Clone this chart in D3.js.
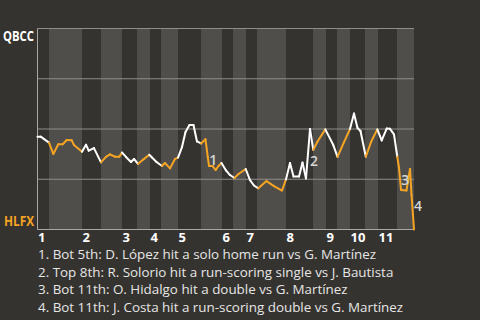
<!DOCTYPE html>
<html>
<head>
<meta charset="utf-8">
<script src="https://cdn.jsdelivr.net/npm/d3@7"></script>
<style>
  body { margin: 0; background: #35332f; }
  svg text { font-family: "Open Sans", "Noto Sans", sans-serif; }
</style>
</head>
<body>
<svg id="chart"></svg>
<script>
// event position (0..100 across the game) and QBCC win probability (%)
const eventT = [0, 0.85, 3.05, 4.2, 5.52, 6.69, 7.76, 9.08, 9.69, 11.82, 12.88, 13.6, 15.0, 16.87, 18.19, 19.26, 20.58, 21.73, 22.44, 23.5,
  24.83, 25.63, 26.69, 28.15, 29.69, 30.41, 31.61, 33.07, 33.86, 35.19, 36.52, 37.32, 38.38, 39.31, 40.37, 41.43, 42.36, 43.43, 44.62, 45.21,
  45.55, 46.48, 47.33, 48.07, 48.87, 50.07, 51.13, 52.32, 53.39, 55.3, 56.44, 57.5, 58.65, 60.82, 62.82, 64.94, 66.0, 67.06, 68.0, 69.46,
  70.38, 71.31, 72.38, 73.25, 74.37, 76.44, 78.57, 79.68, 81.41, 83.0, 84.06, 85.0, 85.79, 87.2, 88.58, 90.25, 91.42, 92.75, 93.63, 94.69,
  95.56, 96.02, 96.55, 98.0, 98.94, 99.34, 100];
const winProb = [46.2, 46.2, 43.2, 37.6, 42.4, 42.4, 44.5, 44.4, 42.0, 38.7, 42.2, 39.2, 40.5, 33.4, 36.1, 37.4, 36.2, 36.2, 38.3, 36.1,
  33.6, 35.1, 32.6, 34.9, 37.2, 35.8, 33.6, 31.6, 33.1, 30.4, 35.1, 35.8, 41.0, 48.5, 52.0, 52.0, 43.8, 42.8, 44.9, 36.2,
  31.6, 31.6, 29.6, 31.6, 33.1, 29.4, 27.1, 25.6, 27.6, 30.1, 24.6, 21.9, 20.5, 24.1, 21.6, 19.4, 24.9, 33.1, 26.4, 26.4,
  33.3, 25.4, 50.0, 39.6, 43.8, 49.8, 42.0, 36.1, 43.5, 50.0, 57.7, 50.5, 49.0, 36.2, 43.5, 49.8, 44.3, 50.2, 50.1, 47.3,
  36.2, 30.6, 19.7, 19.4, 30.1, 17.2, 0];

// start of each half inning (top 1st, bottom 1st, ...) plus the end of the game
const halfStarts = [0, 3.05, 11.82, 16.87, 22.44, 26.43, 29.88, 32.8, 37.32, 43.43, 49.0, 51.92, 55.38, 58.3, 66.0, 73.17, 76.63,
  79.55, 83.0, 86.98, 90.44, 95.48, 100];
const innings = ["1", "2", "3", "4", "5", "6", "7", "8", "9", "10", "11"];

const teamTop = "QBCC";
const teamBottom = "HLFX";

const noteLabels = ["1", "2", "3", "4"];
const noteFrom = [38, 61, 80, 84];
const noteTo = [40, 62, 82, 86];
const noteTexts = [
  "1. Bot 5th: D. López hit a solo home run vs G. Martínez",
  "2. Top 8th: R. Solorio hit a run-scoring single vs J. Bautista",
  "3. Bot 11th: O. Hidalgo hit a double vs G. Martínez",
  "4. Bot 11th: J. Costa hit a run-scoring double vs G. Martínez"
];

const width = 480;
const height = 320;
const orange = "#f6a423";

const svg = d3.select("#chart").attr("width", width).attr("height", height);

const x = d3.scaleLinear().domain([0, 100]).range([37.5, 414]);
const y = d3.scaleLinear().domain([0, 100]).range([229.5, 28.5]);

// half inning stripes
svg
  .selectAll(".stripe")
  .data(halfStarts.slice(0, -1))
  .enter()
  .append("rect")
  .attr("class", "stripe")
  .attr("x", (d) => x(d))
  .attr("y", y(100))
  .attr("width", (d, i) => x(halfStarts[i + 1]) - x(d))
  .attr("height", y(0) - y(100))
  .attr("fill", (d, i) => (i % 2 === 1 ? "#504e4b" : "#35332f"));

// grid lines
svg
  .append("g")
  .selectAll("line")
  .data([25, 50, 75, 100])
  .enter()
  .append("line")
  .attr("x1", x(0))
  .attr("x2", x(100))
  .attr("y1", (d) => y(d))
  .attr("y2", (d) => y(d))
  .attr("stroke", "#8e8d8a")
  .attr("stroke-width", 1);

svg.append("line").attr("x1", x(0)).attr("x2", x(0)).attr("y1", y(100)).attr("y2", y(0)).attr("stroke", "#a9a8a5");
svg.append("line").attr("x1", x(0)).attr("x2", x(100)).attr("y1", y(0)).attr("y2", y(0)).attr("stroke", "#a9a8a5");

// line segments, coloured by which team is batting
const points = eventT.map((t, i) => ({ t: t, p: winProb[i] }));
const halfOf = (t) => d3.bisectRight(halfStarts, t) - 1;
const segments = d3.pairs(points);

svg
  .append("g")
  .selectAll("line")
  .data(segments)
  .enter()
  .append("line")
  .attr("x1", (d) => x(d[0].t))
  .attr("y1", (d) => y(d[0].p))
  .attr("x2", (d) => x(d[1].t))
  .attr("y2", (d) => y(d[1].p))
  .attr("stroke", (d) => (halfOf((d[0].t + d[1].t) / 2) % 2 === 1 ? orange : "#ffffff"))
  .attr("stroke-width", 2)
  .attr("stroke-linecap", "round");

// annotation markers
svg
  .selectAll(".note")
  .data(noteLabels)
  .enter()
  .append("text")
  .attr("class", "note")
  .attr("x", (d, i) => (x(points[noteFrom[i]].t) + x(points[noteTo[i]].t)) / 2 + 6)
  .attr("y", (d, i) => (y(points[noteFrom[i]].p) + y(points[noteTo[i]].p)) / 2 + 7)
  .attr("dy", "0.35em")
  .attr("text-anchor", "middle")
  .attr("fill", "#d6d6d6")
  .attr("font-size", 14)
  .attr("font-weight", 600)
  .text((d) => d);

// team labels, squeezed to the narrow width of the original
svg.append("text").attr("x", 34).attr("y", 41).attr("text-anchor", "end").attr("fill", "#ffffff")
  .attr("font-size", 13.5).attr("font-weight", 700)
  .attr("textLength", 31).attr("lengthAdjust", "spacingAndGlyphs").text(teamTop);
svg.append("text").attr("x", 34).attr("y", 226).attr("text-anchor", "end").attr("fill", orange)
  .attr("font-size", 13.5).attr("font-weight", 700)
  .attr("textLength", 30).attr("lengthAdjust", "spacingAndGlyphs").text(teamBottom);

// inning labels
svg
  .selectAll(".inning")
  .data(innings)
  .enter()
  .append("text")
  .attr("class", "inning")
  .attr("x", (d, i) => x(halfStarts[i * 2]) + 0.5)
  .attr("y", 242)
  .attr("fill", "#ffffff")
  .attr("font-size", 13)
  .attr("font-weight", 700)
  .text((d) => d);

// notes
svg
  .selectAll(".legend")
  .data(noteTexts)
  .enter()
  .append("text")
  .attr("class", "legend")
  .attr("x", 38)
  .attr("y", (d, i) => 259 + i * 17.7)
  .attr("fill", "#e6e6e6")
  .attr("font-size", 13.4)
  .text((d) => d);
</script>
</body>
</html>
